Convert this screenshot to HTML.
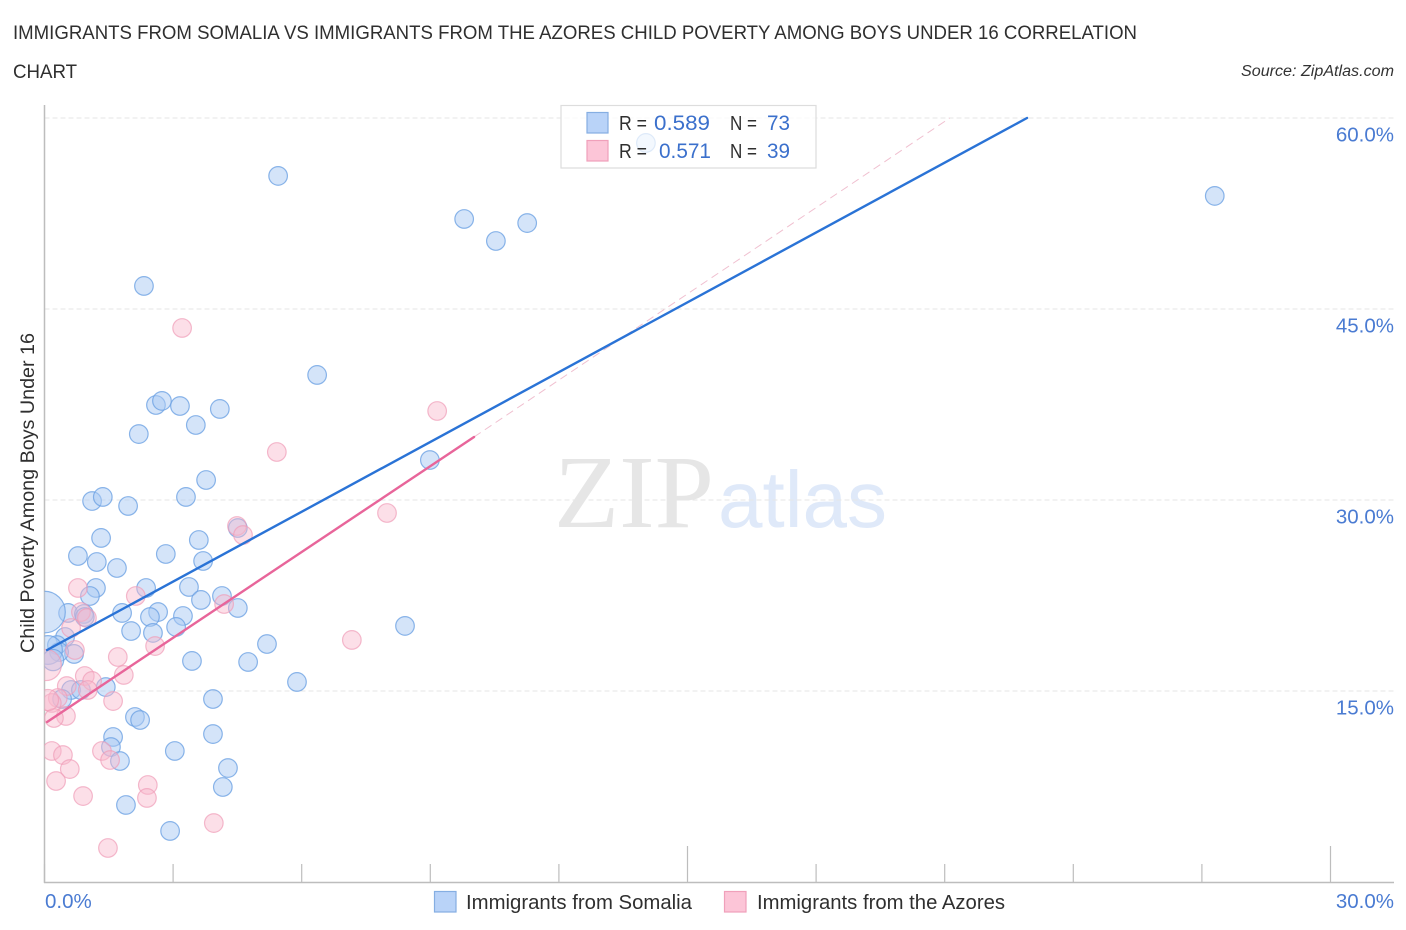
<!DOCTYPE html>
<html>
<head>
<meta charset="utf-8">
<title>Immigrants from Somalia vs Immigrants from the Azores Child Poverty Chart</title>
<style>
html,body{margin:0;padding:0;background:#fff;}
svg{display:block;font-family:"Liberation Sans",sans-serif;}
</style>
</head>
<body>
<svg id="chart" width="1406" height="930" viewBox="0 0 1406 930" xmlns="http://www.w3.org/2000/svg">
  <defs><clipPath id="plot-clip"><rect x="44.5" y="100" width="1362" height="782"/></clipPath></defs>
  <rect x="0" y="0" width="1406" height="930" fill="#ffffff"/>
  <text x="13" y="39" font-size="19.5" fill="#2f2f2f" textLength="1124" lengthAdjust="spacingAndGlyphs">IMMIGRANTS FROM SOMALIA VS IMMIGRANTS FROM THE AZORES CHILD POVERTY AMONG BOYS UNDER 16 CORRELATION</text>
  <text x="13" y="78" font-size="19.5" fill="#2f2f2f" textLength="64" lengthAdjust="spacingAndGlyphs">CHART</text>
  <text x="1241" y="76" font-size="15.500" font-style="italic" fill="#333333" textLength="153" lengthAdjust="spacingAndGlyphs">Source: ZipAtlas.com</text>
  <text x="554" y="527" font-family="'Liberation Serif',serif" font-size="104" fill="#e6e6e6" textLength="160" lengthAdjust="spacingAndGlyphs">ZIP</text>
  <text x="718" y="527" font-size="80" fill="#dfe9f9" textLength="169" lengthAdjust="spacingAndGlyphs">atlas</text>
  <g id="grid-layer"></g>
  <g id="axis-layer"></g>
  <g id="point-layer" clip-path="url(#plot-clip)"></g>
  <g id="trend-layer"></g>
  <text transform="translate(34,653) rotate(-90)" font-size="19" fill="#2f2f2f" textLength="320" lengthAdjust="spacingAndGlyphs">Child Poverty Among Boys Under 16</text>

  <g>
    <rect x="561" y="105.500" width="255" height="62.500" fill="#ffffff" fill-opacity="0.72" stroke="#dddddd" stroke-width="1.200"/>
    <rect x="587" y="112.500" width="21" height="20.500" fill="#b9d3f8" stroke="#85aee2" stroke-width="1.200"/>
    <rect x="587" y="140.500" width="21" height="20.500" fill="#fcc5d7" stroke="#f0a0ba" stroke-width="1.200"/>
    <text x="619" y="130" font-size="20" fill="#2f2f2f" textLength="28" lengthAdjust="spacingAndGlyphs">R =</text>
    <text x="654" y="130" font-size="21" fill="#3b70cc" textLength="56" lengthAdjust="spacingAndGlyphs">0.589</text>
    <text x="730" y="130" font-size="20" fill="#2f2f2f" textLength="27" lengthAdjust="spacingAndGlyphs">N =</text>
    <text x="767" y="130" font-size="21" fill="#3b70cc" textLength="23" lengthAdjust="spacingAndGlyphs">73</text>
    <text x="619" y="158" font-size="20" fill="#2f2f2f" textLength="28" lengthAdjust="spacingAndGlyphs">R =</text>
    <text x="659" y="158" font-size="21" fill="#3b70cc" textLength="52" lengthAdjust="spacingAndGlyphs">0.571</text>
    <text x="730" y="158" font-size="20" fill="#2f2f2f" textLength="27" lengthAdjust="spacingAndGlyphs">N =</text>
    <text x="767" y="158" font-size="21" fill="#3b70cc" textLength="23" lengthAdjust="spacingAndGlyphs">39</text>
  </g>

  <g>
    <rect x="434.500" y="891.500" width="21.500" height="20.500" fill="#b9d3f8" stroke="#85aee2" stroke-width="1.200"/>
    <text x="466" y="909" font-size="20" fill="#2f2f2f" textLength="226" lengthAdjust="spacingAndGlyphs">Immigrants from Somalia</text>
    <rect x="724.500" y="891.500" width="21.500" height="20.500" fill="#fcc5d7" stroke="#f0a0ba" stroke-width="1.200"/>
    <text x="757" y="909" font-size="20" fill="#2f2f2f" textLength="248" lengthAdjust="spacingAndGlyphs">Immigrants from the Azores</text>
  </g>
</svg>
<script>
const yTickValues = [15, 30, 45, 60];
const yTickLabels = ["15.0%", "30.0%", "45.0%", "60.0%"];
const xTickValues = [0, 3, 6, 9, 12, 15, 18, 21, 24, 27, 30];
const xMajorTickValues = [15, 30];
const xEndLabels = ["0.0%", "30.0%"];

const somaliaX = [5.45,9.79,10.53,11.26,27.30,14.03,2.32,6.36,2.60,2.74,3.16,4.09,3.53,2.20,8.99,3.77,3.30,1.11,1.36,1.95,4.51,3.60,1.32,0.78,2.83,3.70,1.69,1.22,1.20,2.37,3.37,1.06,4.14,3.65,4.51,0.55,0.92,0.94,1.81,2.65,2.46,3.23,3.07,2.02,2.53,0.48,8.41,5.19,0.29,0.69,0.34,3.44,4.75,5.89,1.43,0.62,0.85,0.41,3.93,2.11,2.23,3.93,1.60,1.55,1.76,3.04,4.28,4.16,1.90,2.93,0.00,0.08,0.20];
const somaliaY = [55.45,52.07,50.34,51.75,53.88,58.04,46.81,39.82,37.46,37.78,37.38,37.15,35.89,35.18,33.14,31.57,30.24,29.92,30.24,29.53,27.80,26.86,27.02,25.60,25.76,25.21,24.66,25.13,23.09,23.09,23.17,22.46,22.46,22.15,21.52,21.13,21.05,20.81,21.13,21.20,20.81,20.89,20.03,19.71,19.56,19.24,20.11,18.69,18.61,17.91,18.06,17.36,17.28,15.71,15.31,15.08,15.08,14.37,14.37,12.96,12.72,11.62,11.39,10.60,9.50,10.29,8.95,7.46,6.05,4.01,21.20,18.22,17.43];
const somaliaWeight = [1,1,1,1,1,1,1,1,1,1,1,1,1,1,1,1,1,1,1,1,1,1,1,1,1,1,1,1,1,1,1,1,1,1,1,1,1,1,1,1,1,1,1,1,1,1,1,1,1,1,1,1,1,1,1,1,1,1,1,1,1,1,1,1,1,1,1,1,1,1,5,2.4,1.3];

const azoresX = [3.21,9.16,5.42,7.99,4.49,4.63,0.78,2.13,4.19,0.85,0.99,0.62,7.17,2.58,0.71,1.71,1.85,0.94,1.11,0.52,1.01,1.60,0.31,0.17,0.50,0.22,1.34,0.17,0.43,1.53,0.59,2.41,2.39,0.27,0.90,3.95,1.48,0.03,0.08];
const azoresY = [43.51,36.99,33.77,28.98,27.96,27.25,23.09,22.46,21.83,21.20,20.73,19.95,19.01,18.53,18.22,17.67,16.26,16.18,15.79,15.39,15.08,14.21,14.45,14.06,13.04,12.88,10.29,10.29,9.97,9.58,8.87,7.62,6.60,7.93,6.75,4.63,2.67,17.04,14.29];
const azoresWeight = [1,1,1,1,1,1,1,1,1,1,1,1,1,1,1,1,1,1,1,1,1,1,1,1,1,1,1,1,1,1,1,1,1,1,1,1,1,2.8,1.3];

const somaliaTrendX = [0.06, 22.92];
const somaliaTrendY = [18.22, 60.0];
const azoresTrendX = [0.06, 10.02];
const azoresTrendY = [12.57, 34.95];
const azoresExtensionX = [10.02, 21.12];
const azoresExtensionY = [34.95, 60.0];

const NS = "http://www.w3.org/2000/svg";
const xScale = v => 44.5 + v * (1286 / 30);
const yScale = v => 882 - v * (191 / 15);
const rScale = w => 9.3 * Math.sqrt(w);

function make(tag, parentId, attrs, text) {
  const el = document.createElementNS(NS, tag);
  Object.keys(attrs).forEach(k => el.setAttribute(k, attrs[k]));
  if (text !== undefined) el.textContent = text;
  document.getElementById(parentId).appendChild(el);
  return el;
}

yTickValues.forEach((v, i) => {
  const line = make("line", "grid-layer", {x1: 44.5, x2: 1394, y1: yScale(v), y2: yScale(v), stroke: "#e6e6e6", "stroke-width": 1, "stroke-dasharray": "5 3"});
  
  
  const label = make("text", "axis-layer", {x: 1394, y: yScale(v) + 23.5, "text-anchor": "end", "font-size": 20.5, fill: "#4a7bd2"}, yTickLabels[i]);
  
  
});

const yAxisLine = make("line", "axis-layer", {x1: 44.5, x2: 44.5, y1: 105, y2: 883, stroke: "#bdbdbd", "stroke-width": 1.5});


const xAxisLine = make("line", "axis-layer", {x1: 44, x2: 1394, y1: 882.5, y2: 882.5, stroke: "#bdbdbd", "stroke-width": 1.5});



xTickValues.forEach(v => {
  const major = xMajorTickValues.includes(v);
  const tick = make("line", "axis-layer", {x1: xScale(v), x2: xScale(v), y1: major ? 846 : 864, y2: 882, stroke: "#bdbdbd", "stroke-width": 1.2});
  
  
});

const xLabelStart = make("text", "axis-layer", {x: 45, y: 908, "font-size": 20.5, fill: "#4a7bd2"}, xEndLabels[0]);


const xLabelEnd = make("text", "axis-layer", {x: 1394, y: 908, "text-anchor": "end", "font-size": 20.5, fill: "#4a7bd2"}, xEndLabels[1]);



somaliaX.forEach((v, i) => {
  const dot = make("circle", "point-layer", {cx: xScale(v), cy: yScale(somaliaY[i]), r: rScale(somaliaWeight[i]), fill: "#a9c9f4", "fill-opacity": 0.5, stroke: "#6ea3e3", "stroke-opacity": 0.8, "stroke-width": 1.2});
  
  
});

azoresX.forEach((v, i) => {
  const dot = make("circle", "point-layer", {cx: xScale(v), cy: yScale(azoresY[i]), r: rScale(azoresWeight[i]), fill: "#f9b8cd", "fill-opacity": 0.45, stroke: "#f09cb8", "stroke-opacity": 0.7, "stroke-width": 1.2});
  
  
});

const extension = make("line", "trend-layer", {x1: xScale(azoresExtensionX[0]), y1: yScale(azoresExtensionY[0]), x2: xScale(azoresExtensionX[1]), y2: yScale(azoresExtensionY[1]), stroke: "#f0c0d0", "stroke-width": 1, "stroke-dasharray": "8 5"});


const azoresTrend = make("line", "trend-layer", {x1: xScale(azoresTrendX[0]), y1: yScale(azoresTrendY[0]), x2: xScale(azoresTrendX[1]), y2: yScale(azoresTrendY[1]), stroke: "#e8659a", "stroke-width": 2.4, "stroke-linecap": "round"});


const somaliaTrend = make("line", "trend-layer", {x1: xScale(somaliaTrendX[0]), y1: yScale(somaliaTrendY[0]), x2: xScale(somaliaTrendX[1]), y2: yScale(somaliaTrendY[1]), stroke: "#2a73d6", "stroke-width": 2.4, "stroke-linecap": "round"});


</script>
</body>
</html>
